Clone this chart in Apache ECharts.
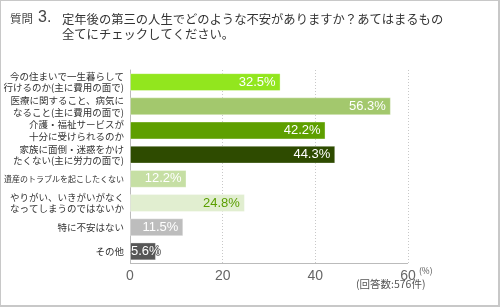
<!DOCTYPE html>
<html>
<head>
<meta charset="utf-8">
<script src="https://cdn.jsdelivr.net/npm/echarts@6/dist/echarts.min.js"></script>
<style>
html,body{margin:0;padding:0;background:#fff;}
#frame{position:absolute;left:0;top:0;width:497px;height:304px;border:1px solid #c8c8c8;border-right-width:2px;border-bottom-width:2px;}
#c{position:absolute;left:0;top:0;width:500px;height:308px;}
</style>
</head>
<body>
<div id="frame"></div>
<div id="c"></div>
<script>
const categories = [
  '今の住まいで一生暮らして\n行けるのか(主に費用の面で)',
  '医療に関すること、病気に\nなること(主に費用の面で)',
  '介護・福祉サービスが\n十分に受けられるのか',
  '家族に面倒・迷惑をかけ\nたくない(主に労力の面で)',
  '遺産のトラブルを起こしたくない',
  'やりがい、いきがいがなく\nなってしまうのではないか',
  '特に不安はない',
  'その他'
];
const values = [32.5, 56.3, 42.2, 44.3, 12.2, 24.8, 11.5, 5.6];
const xTicks = [0, 20, 40, 60];
const titleLabel = '質問';
const titleNum = '3.';
const titleLines = ['定年後の第三の人生でどのような不安がありますか？あてはまるもの', '全てにチェックしてください。'];
const unitNote = '(%)';
const countNote = '(回答数:576件)';

const barColors = ['#92e61e', '#a3c86d', '#5e9f00', '#2e4b00', '#c6dfa4', '#e1eed0', '#bdbdbd', '#575757'];
const labelColors = ['#fff', '#fff', '#fff', '#fff', '#fff', '#5a9e00', '#fff', '#fff'];

const jp = '"Noto Sans CJK JP", sans-serif';
const lat = '"Liberation Sans", Arial, sans-serif';

const chart = echarts.init(document.getElementById('c'), null, {renderer: 'canvas'});
chart.setOption({
  animation: false,
  grid: {left: 130, right: 92, top: 70, bottom: 44.5, containLabel: false},
  xAxis: {
    type: 'value', min: 0, max: 60, interval: 20,
    axisLine: {show: false},
    axisTick: {show: false},
    axisLabel: {fontSize: 14, color: '#666', fontFamily: lat, margin: 6,
      formatter: v => xTicks.includes(v) ? String(v) : ''},
    splitLine: {show: true, lineStyle: {type: [1, 2], color: '#c8c8c8', width: 1}}
  },
  yAxis: {
    type: 'category', inverse: true, data: categories,
    axisLine: {show: true, lineStyle: {color: '#bbb', width: 1}},
    axisTick: {show: false},
    axisLabel: {
      fontSize: 9.5, lineHeight: 11.5, color: '#333', fontFamily: jp, margin: 6, align: 'right',
      formatter: v => v.length > 14 && v.indexOf('\n') < 0 ? '{s|' + v + '}' : v,
      rich: {s: {fontSize: 8, fontFamily: jp, color: '#333'}}
    }
  },
  series: [{
    type: 'bar',
    clip: false,
    data: values.map((v, i) => ({
      value: v,
      itemStyle: {color: barColors[i]},
      label: i === values.length - 1
        ? {color: labelColors[i], position: [1, '50%'], align: 'left', verticalAlign: 'middle', overflow: 'none',
           textBorderColor: '#555', textBorderWidth: 1.5}
        : {color: labelColors[i]}
    })),
    barCategoryGap: '26%',
    itemStyle: {borderColor: 'rgba(255,255,255,0.35)', borderWidth: 1},
    label: {
      show: true, position: 'insideRight', distance: 5, overflow: 'none',
      fontSize: 13, fontFamily: lat, formatter: p => p.value + '%'
    }
  }],
  graphic: [
    {type: 'line', shape: {x1: 130, y1: 263.5, x2: 408, y2: 263.5}, style: {stroke: '#bbb', lineWidth: 1}, z: 10},
    {type: 'text', left: 10, top: 13, style: {text: titleLabel, fontSize: 11.5, fill: '#444', fontFamily: jp}},
    {type: 'text', left: 38, top: 10, style: {text: titleNum, fontSize: 16, fill: '#444', fontFamily: lat}},
    {type: 'text', left: 62, top: 12, style: {text: titleLines.join('\n'), fontSize: 12.3, lineHeight: 15, fill: '#333', fontFamily: jp}},
    {type: 'text', left: 419, top: 267, style: {text: unitNote, fontSize: 8.5, fill: '#555', fontFamily: jp}},
    {type: 'text', left: 356, top: 279, style: {text: countNote, fontSize: 10.5, fill: '#555', fontFamily: jp}}
  ]
});
</script>
</body>
</html>
